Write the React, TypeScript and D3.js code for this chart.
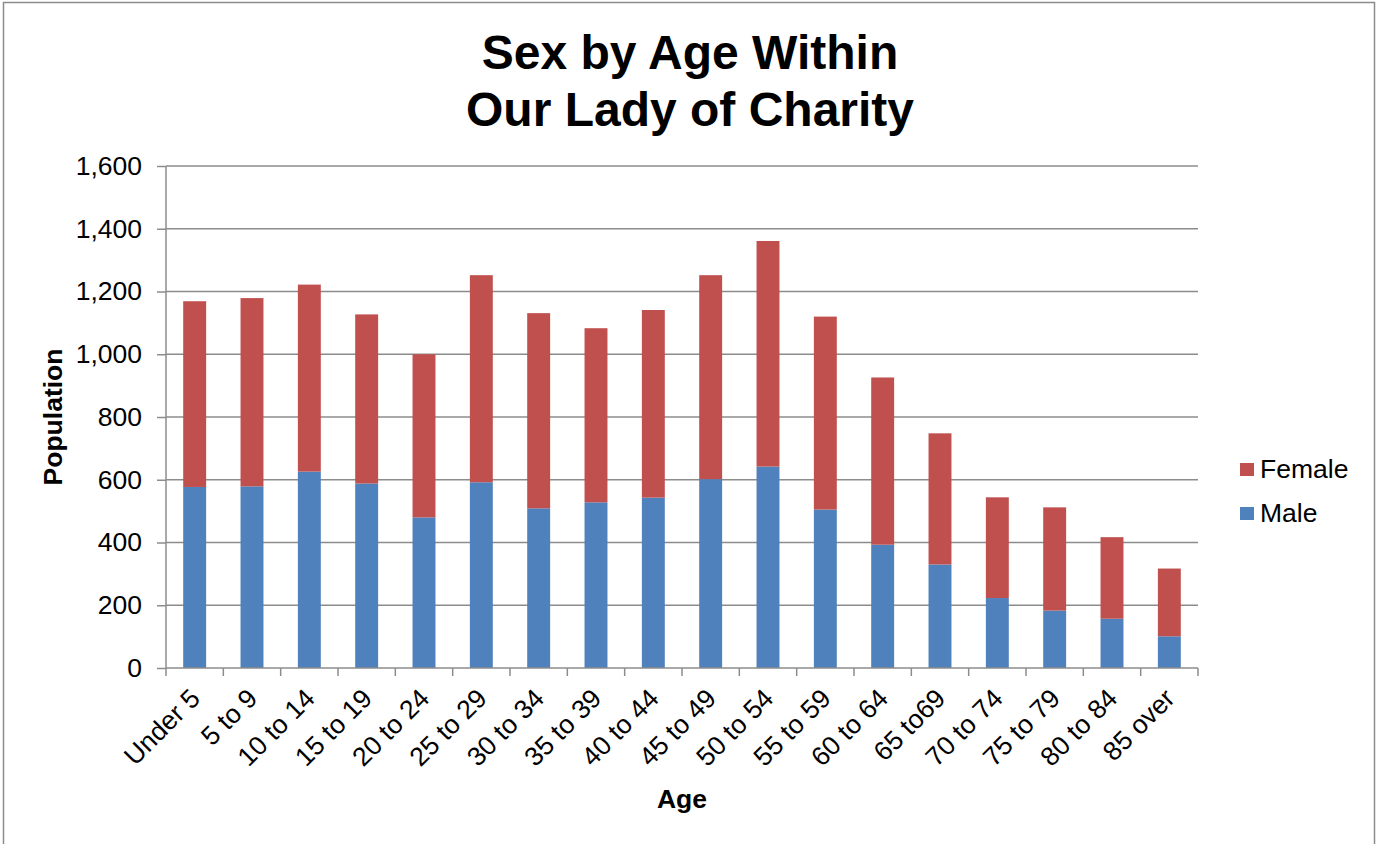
import React, { useEffect, useRef } from 'react';
import * as d3 from 'd3';

const categories = [
  'Under 5', '5 to 9', '10 to 14', '15 to 19', '20 to 24', '25 to 29',
  '30 to 34', '35 to 39', '40 to 44', '45 to 49', '50 to 54', '55 to 59',
  '60 to 64', '65 to69', '70 to 74', '75 to 79', '80 to 84', '85 over',
];

const male = [577, 579, 626, 588, 480, 592, 509, 528, 543, 602, 642, 505, 393, 330, 223, 183, 157, 101];
const female = [592, 600, 596, 539, 520, 660, 622, 555, 598, 650, 719, 615, 533, 418, 321, 329, 260, 216];

const yTicks = [0, 200, 400, 600, 800, 1000, 1200, 1400, 1600];

const seriesNames = ['Male', 'Female'];
const seriesColors = ['#4F81BD', '#C0504D'];

const FONT = '"Liberation Sans", Arial, sans-serif';
const FS = 26.5;

const App: React.FC = () => {
  const svgRef = useRef<SVGSVGElement>(null);
  const width = 1377;
  const height = 844;
  const margin = { top: 166, right: 179, bottom: 176, left: 166 };

  useEffect(() => {
    if (!svgRef.current) return;
    const svg = d3.select(svgRef.current);
    svg.selectAll('*').remove();

    const innerWidth = width - margin.left - margin.right;
    const innerHeight = height - margin.top - margin.bottom;

    // chart border
    svg.append('rect')
      .attr('x', 3.5)
      .attr('y', 2.5)
      .attr('width', 1371)
      .attr('height', 900)
      .attr('fill', 'white')
      .attr('stroke', '#8c8c8c')
      .attr('stroke-width', 1.5);

    // title
    const title = svg.append('text')
      .attr('text-anchor', 'middle')
      .attr('font-family', FONT)
      .attr('font-weight', 'bold')
      .attr('font-size', 48)
      .attr('fill', '#000');
    title.append('tspan').attr('x', 690).attr('y', 69).text('Sex by Age Within');
    title.append('tspan').attr('x', 690).attr('y', 126).text('Our Lady of Charity');

    const x = d3.scaleBand()
      .domain(categories)
      .range([0, innerWidth])
      .paddingInner(0.6)
      .paddingOuter(0.3);

    const band = d3.scaleBand()
      .domain(categories)
      .range([0, innerWidth]);

    const y = d3.scaleLinear()
      .domain([0, 1600])
      .range([innerHeight, 0]);

    const g = svg.append('g')
      .attr('transform', `translate(${margin.left},${margin.top})`);

    // gridlines
    g.selectAll('.grid')
      .data(yTicks.filter(t => t > 0))
      .enter()
      .append('line')
      .attr('x1', 0)
      .attr('x2', innerWidth)
      .attr('y1', d => y(d))
      .attr('y2', d => y(d))
      .attr('stroke', '#8c8c8c')
      .attr('stroke-width', 1.5);

    // stacked bars
    const stackData = categories.map((c, i) => ({ category: c, Male: male[i], Female: female[i] }));
    const stacked = d3.stack<any>().keys(seriesNames)(stackData);

    stacked.forEach((layer, li) => {
      g.selectAll(`.bar-${li}`)
        .data(layer)
        .enter()
        .append('rect')
        .attr('x', d => x(d.data.category) as number)
        .attr('width', x.bandwidth())
        .attr('y', d => y(d[1]))
        .attr('height', d => y(d[0]) - y(d[1]))
        .attr('fill', seriesColors[li]);
    });

    // y axis
    const yAxis = g.append('g')
      .call(d3.axisLeft(y).tickValues(yTicks).tickSize(9).tickPadding(15).tickFormat(d3.format(',')));
    yAxis.select('.domain').attr('stroke', '#8c8c8c').attr('stroke-width', 1.5).attr('d', `M0,${innerHeight}V0`);
    yAxis.selectAll('.tick line').attr('stroke', '#8c8c8c').attr('stroke-width', 1.5);
    yAxis.selectAll('.tick text')
      .attr('font-family', FONT)
      .attr('font-size', FS)
      .attr('fill', '#000');

    // x axis
    const xAxis = g.append('g').attr('transform', `translate(0,${innerHeight})`);
    xAxis.append('line')
      .attr('x1', 0).attr('x2', innerWidth)
      .attr('y1', 0).attr('y2', 0)
      .attr('stroke', '#8c8c8c').attr('stroke-width', 1.5);
    const boundaries = [...categories.map(c => band(c) as number), innerWidth];
    xAxis.selectAll('.xtick')
      .data(boundaries)
      .enter()
      .append('line')
      .attr('x1', d => d).attr('x2', d => d)
      .attr('y1', 0).attr('y2', 8)
      .attr('stroke', '#8c8c8c').attr('stroke-width', 1.5);
    xAxis.selectAll('.xlabel')
      .data(categories)
      .enter()
      .append('text')
      .attr('text-anchor', 'end')
      .attr('font-family', FONT)
      .attr('font-size', FS)
      .attr('fill', '#000')
      .attr('transform', d => `translate(${(band(d) as number) + band.bandwidth() / 2 + 7},${32}) rotate(-45)`)
      .text(d => d);

    // axis titles
    svg.append('text')
      .attr('transform', `translate(62,${margin.top + innerHeight / 2}) rotate(-90)`)
      .attr('text-anchor', 'middle')
      .attr('font-family', FONT)
      .attr('font-weight', 'bold')
      .attr('font-size', FS)
      .attr('fill', '#000')
      .text('Population');

    svg.append('text')
      .attr('x', margin.left + innerWidth / 2)
      .attr('y', 808)
      .attr('text-anchor', 'middle')
      .attr('font-family', FONT)
      .attr('font-weight', 'bold')
      .attr('font-size', FS)
      .attr('fill', '#000')
      .text('Age');

    // legend (Female on top)
    const legendItems = [
      { name: 'Female', color: seriesColors[1], y: 463 },
      { name: 'Male', color: seriesColors[0], y: 507 },
    ];
    const legend = svg.append('g');
    legendItems.forEach(item => {
      legend.append('rect')
        .attr('x', 1240)
        .attr('y', item.y)
        .attr('width', 14)
        .attr('height', 13)
        .attr('fill', item.color);
      legend.append('text')
        .attr('x', 1260)
        .attr('y', item.y + 15)
        .attr('font-family', FONT)
        .attr('font-size', FS)
        .attr('fill', '#000')
        .text(item.name);
    });
  }, []);

  return (
    <svg
      ref={svgRef}
      width={width}
      height={height}
      style={{ position: 'absolute', left: 0, top: 0, display: 'block' }}
    ></svg>
  );
};

export default App;
